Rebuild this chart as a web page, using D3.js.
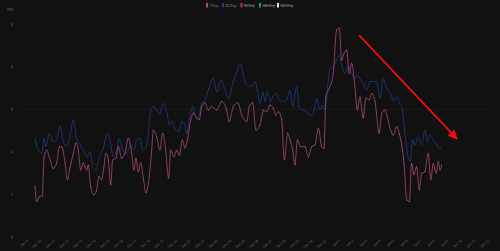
<!DOCTYPE html>
<html>
<head>
<meta charset="utf-8">
<script src="https://cdn.jsdelivr.net/npm/d3@7"></script>
<style>
  html, body { margin: 0; padding: 0; background: #111111; }
  svg { display: block; }
  text { font-family: "Open Sans", "DejaVu Sans", sans-serif; }
</style>
</head>
<body>
<div id="chart"></div>
<script>
'use strict';

// series as [days since Dec 9, value]
const sevenDay = [
  [0.66,1.20],[0.79,0.83],[0.98,0.95],[1.20,0.96],[1.33,1.88],[1.53,2.04],[1.72,1.88],[2.01,1.61],
  [2.26,1.74],[2.46,2.12],[2.63,2.12],[2.88,1.74],[3.05,1.34],[3.24,1.62],[3.49,1.97],[3.69,2.21],
  [3.86,2.04],[4.03,1.57],[4.23,1.74],[4.35,1.65],[4.48,1.57],[4.59,1.69],[4.77,1.18],[5.01,0.99],
  [5.21,1.10],[5.38,1.42],[5.58,1.34],[5.75,1.65],[5.90,1.97],[6.07,1.81],[6.25,1.22],[6.39,1.81],
  [6.64,1.85],[6.81,2.12],[7.06,1.85],[7.30,1.97],[7.54,2.32],[7.79,1.97],[7.96,1.57],[8.11,1.85],
  [8.28,1.53],[8.46,1.74],[8.65,1.38],[8.85,1.04],[9.09,1.42],[9.27,2.04],[9.39,2.51],[9.64,2.35],
  [9.88,2.04],[10.08,2.44],[10.30,2.04],[10.52,1.38],[10.67,2.04],[10.91,1.88],[11.11,2.04],[11.31,1.92],
  [11.53,2.28],[11.73,2.09],[11.90,2.28],[12.15,2.75],[12.34,2.91],[12.59,2.79],[12.78,2.75],[12.96,3.06],
  [13.20,3.15],[13.44,2.98],[13.69,3.06],[14.06,2.98],[14.43,3.18],[14.80,2.98],[14.99,2.71],[15.29,3.06],
  [15.63,3.15],[15.91,2.86],[16.28,2.71],[16.47,3.06],[16.72,3.15],[16.96,2.51],[17.26,2.63],[17.50,2.98],
  [17.75,2.94],[17.99,3.10],[18.24,3.02],[18.44,2.86],[18.61,2.94],[18.86,2.75],[19.05,1.81],[19.30,2.44],
  [19.47,2.28],[19.67,2.04],[19.84,1.69],[20.01,2.28],[20.26,2.12],[20.58,2.12],[20.82,1.88],[21.07,2.12],
  [21.31,2.16],[21.56,2.55],[21.81,2.12],[21.98,2.08],[22.12,3.29],[22.37,3.49],[22.66,3.84],[22.91,4.86],
  [23.11,4.90],[23.28,4.15],[23.45,4.31],[23.65,4.39],[23.84,3.84],[24.02,4.08],[24.26,3.53],[24.43,2.98],
  [24.63,3.29],[24.87,2.79],[25.07,3.26],[25.32,3.22],[25.49,3.37],[25.74,3.18],[26.05,2.43],[26.23,2.90],
  [26.47,2.98],[26.64,2.82],[26.89,2.51],[27.09,2.39],[27.34,2.59],[27.53,2.43],[27.71,2.16],[27.88,1.73],
  [28.08,0.87],[28.27,0.83],[28.44,1.73],[28.61,1.46],[28.81,1.65],[29.00,1.10],[29.18,1.50],[29.42,1.53],
  [29.67,1.96],[29.85,1.34],[30.04,1.73],[30.24,1.50],[30.41,1.77],[30.53,1.57],[30.66,1.69]
];

const thirtyDay = [
  [0.66,2.32],[0.91,2.04],[1.16,1.96],[1.33,2.32],[1.47,2.12],[1.72,2.43],[2.01,2.24],[2.26,2.28],
  [2.51,2.61],[2.75,2.24],[3.00,2.12],[3.24,2.35],[3.49,2.75],[3.74,2.28],[3.93,2.20],[4.18,2.04],
  [4.35,1.96],[4.52,1.88],[4.72,2.00],[4.96,1.61],[5.16,1.57],[5.41,1.88],[5.70,2.08],[6.00,2.43],
  [6.19,2.28],[6.44,1.88],[6.69,2.04],[6.86,2.32],[7.13,2.04],[7.43,1.96],[7.72,2.16],[7.96,2.04],
  [8.16,2.28],[8.41,2.32],[8.61,2.04],[8.85,2.12],[9.02,2.43],[9.20,2.98],[9.39,3.06],[9.64,2.98],
  [9.88,2.90],[10.13,3.14],[10.38,2.94],[10.57,2.63],[10.74,2.71],[10.99,2.55],[11.23,2.47],[11.53,2.71],
  [11.73,2.63],[11.85,2.43],[12.09,2.86],[12.29,3.06],[12.46,2.86],[12.71,2.79],[12.96,3.14],[13.20,3.22],
  [13.50,3.50],[13.79,3.73],[14.09,3.40],[14.38,3.69],[14.68,3.45],[14.97,3.26],[15.27,3.64],[15.56,3.87],
  [15.78,4.08],[15.98,3.88],[16.15,3.61],[16.39,3.54],[16.64,3.54],[16.89,3.65],[17.06,3.45],[17.26,3.14],
  [17.46,3.41],[17.63,3.18],[17.79,3.41],[18.05,3.18],[18.24,3.33],[18.49,3.37],[18.68,3.22],[18.93,3.18],
  [19.23,3.22],[19.47,3.45],[19.67,3.06],[19.96,3.53],[20.16,3.02],[20.45,2.98],[20.70,2.94],[20.94,2.86],
  [21.19,2.90],[21.44,3.26],[21.68,2.98],[21.88,3.10],[22.05,2.98],[22.22,3.45],[22.42,3.96],[22.66,4.00],
  [22.91,4.15],[23.11,4.27],[23.28,4.04],[23.53,3.84],[23.77,4.00],[24.02,3.84],[24.26,3.73],[24.43,3.80],
  [24.68,3.69],[24.87,3.61],[25.12,3.45],[25.37,3.65],[25.61,3.65],[25.86,3.65],[26.11,3.26],[26.35,3.73],
  [26.60,3.49],[26.89,3.37],[27.14,3.18],[27.34,3.29],[27.53,3.14],[27.71,3.06],[27.95,2.43],[28.15,1.92],
  [28.32,1.77],[28.52,2.28],[28.69,2.16],[28.93,2.35],[29.18,2.16],[29.42,2.51],[29.62,2.24],[29.79,2.39],
  [29.99,2.32],[30.24,2.20],[30.48,2.08],[30.66,2.08]
];

const legendNames = ['7 Day', '30 Day', '90 Day', '180 Day', '365 Day'];
const legendColors = ['#a84a77', '#223b86', '#c22a55', '#189a8c', '#e8e8e8'];
const legendHidden = [false, false, true, true, true];
const yTicks = [0, 1, 2, 3, 4, 5];
const yTitle = 'TPS';
const startDay = new Date(2023, 11, 9);
const tickDays = d3.range(0, 35); // Dec 9 .. Jan 12
// trend arrow, [days, value]
const arrowFrom = [24.56, 4.74];
const arrowTo = [31.86, 2.28];

const W = 500, H = 251;
const margin = {top: 10, right: 10, bottom: 14, left: 26};
const toDate = (d) => new Date(startDay.getTime() + d * 864e5);

const svg = d3.select('#chart').append('svg')
    .attr('width', W)
    .attr('height', H);

svg.append('rect').attr('width', W).attr('height', H).attr('fill', '#111111');

const x = d3.scaleTime()
    .domain([toDate(0), toDate(34)])
    .range([margin.left, W - margin.right - 3]);

const y = d3.scaleLinear()
    .domain([0, 5])
    .range([H - margin.bottom, 24]);

// grid
const grid = svg.append('g');
grid.selectAll('line.v')
    .data(tickDays)
  .enter().append('line')
    .attr('x1', (d) => x(toDate(d)))
    .attr('x2', (d) => x(toDate(d)))
    .attr('y1', margin.top)
    .attr('y2', H - margin.bottom)
    .attr('stroke', '#171717')
    .attr('stroke-width', 0.5);
grid.selectAll('line.h')
    .data(yTicks)
  .enter().append('line')
    .attr('x1', margin.left)
    .attr('x2', W - margin.right + 2)
    .attr('y1', (d) => y(d))
    .attr('y2', (d) => y(d))
    .attr('stroke', (d) => d === 3 ? '#242424' : '#181818')
    .attr('stroke-width', 0.6);

// y axis labels
const yAxis = svg.append('g')
    .attr('transform', 'translate(' + 13 + ',0)')
    .call(d3.axisLeft(y).tickValues(yTicks).tickFormat(d3.format('d')).tickSize(0).tickPadding(0));
yAxis.select('.domain').remove();
yAxis.selectAll('text')
    .attr('fill', '#808080')
    .style('font-size', '3.5px');

svg.append('text')
    .attr('x', 13)
    .attr('y', 11)
    .attr('text-anchor', 'end')
    .attr('fill', '#808080')
    .style('font-size', '3.5px')
    .text(yTitle);

// x axis labels
const fmt = d3.timeFormat('%b %-d');
const xAxis = svg.append('g')
    .attr('transform', 'translate(0,' + (H - margin.bottom + 2) + ')')
    .call(d3.axisBottom(x).tickValues(tickDays.map(toDate)).tickFormat(fmt).tickSize(0).tickPadding(0));
xAxis.select('.domain').remove();
xAxis.selectAll('text')
    .attr('fill', '#747474')
    .style('font-size', '3.5px')
    .style('text-anchor', 'end')
    .attr('dy', '0.8em')
    .attr('transform', 'rotate(-40)');

// lines
const line = d3.line()
    .x((d) => x(toDate(d[0])))
    .y((d) => y(d[1]))
    .curve(d3.curveMonotoneX);

svg.append('path')
    .datum(thirtyDay)
    .attr('d', line)
    .attr('fill', 'none')
    .attr('stroke', legendColors[1])
    .attr('stroke-width', 0.8);

svg.append('path')
    .datum(sevenDay)
    .attr('d', line)
    .attr('fill', 'none')
    .attr('stroke', legendColors[0])
    .attr('stroke-width', 0.8);

svg.append('g').selectAll('circle')
    .data(sevenDay)
  .enter().append('circle')
    .attr('cx', (d) => x(toDate(d[0])))
    .attr('cy', (d) => y(d[1]))
    .attr('r', 0.45)
    .attr('fill', '#c06a92');

// trend arrow
const ax1 = x(toDate(arrowFrom[0])), ay1 = y(arrowFrom[1]);
const ax2 = x(toDate(arrowTo[0])), ay2 = y(arrowTo[1]);
const ang = Math.atan2(ay2 - ay1, ax2 - ax1);
const headLen = 10, headW = 4.5;
const bx = ax2 - headLen * Math.cos(ang), by = ay2 - headLen * Math.sin(ang);
svg.append('line')
    .attr('x1', ax1).attr('y1', ay1)
    .attr('x2', bx).attr('y2', by)
    .attr('stroke', '#f00d0d')
    .attr('stroke-width', 1.8);
svg.append('path')
    .attr('d', 'M' + ax2 + ',' + ay2 +
      'L' + (bx + headW * Math.sin(ang)) + ',' + (by - headW * Math.cos(ang)) +
      'L' + (bx - headW * Math.sin(ang)) + ',' + (by + headW * Math.cos(ang)) + 'Z')
    .attr('fill', '#f00d0d');

// legend
const legendX = [206, 222, 240.5, 259, 277];
const legend = svg.append('g');
legendNames.forEach((name, i) => {
  const g = legend.append('g').attr('transform', 'translate(' + legendX[i] + ',3)');
  g.append('rect')
    .attr('width', 2).attr('height', 4.5)
    .attr('fill', legendColors[i]);
  const t = g.append('text')
    .attr('x', 3.2).attr('y', 3.6)
    .attr('fill', '#9a9a9a')
    .style('font-size', '3.5px')
    .text(name);
  if (legendHidden[i]) {
    const w = t.node().getComputedTextLength();
    g.append('line')
      .attr('x1', 3.2).attr('x2', 3.2 + w)
      .attr('y1', 2.4).attr('y2', 2.4)
      .attr('stroke', '#9a9a9a').attr('stroke-width', 0.4);
  }
});
</script>
</body>
</html>
